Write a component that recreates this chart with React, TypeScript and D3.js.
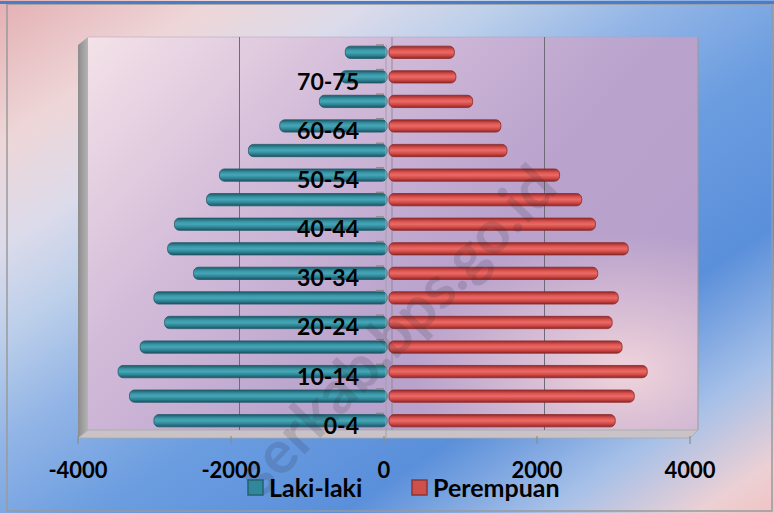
import React from 'react';
import * as d3 from 'd3';

// age groups, bottom to top
const ageGroups = [
  '0-4', '5-9', '10-14', '15-19', '20-24', '25-29', '30-34', '35-39',
  '40-44', '45-49', '50-54', '55-59', '60-64', '65-69', '70-75', '75+'
];
const labelledGroups = ['0-4', '10-14', '20-24', '30-34', '40-44', '50-54', '60-64', '70-75'];

// population per group (Laki-laki drawn to the left)
const lakiLaki = [3070, 3390, 3540, 3250, 2930, 3070, 2550, 2890, 2800, 2380, 2210, 1830, 1420, 900, 620, 560];
const perempuan = [2980, 3230, 3400, 3070, 2940, 3020, 2750, 3150, 2720, 2540, 2250, 1560, 1480, 1110, 890, 870];

const xTicks = [-4000, -2000, 0, 2000, 4000];
const legendItems = ['Laki-laki', 'Perempuan'];

const W = 774;
const H = 513;
const FONT = 'Lato, "Open Sans", sans-serif';

export default function App() {
  // back wall, bar plane and front axis plane (3D offset of the excel chart)
  const xBack = d3.scaleLinear().domain([-4000, 4000]).range([87, 697]);
  const xBar = d3.scaleLinear().domain([-4000, 4000]).range([83, 693]);
  const xFront = d3.scaleLinear().domain([-4000, 4000]).range([78, 690]);

  const yBar = d3.scaleBand<string>().domain([...ageGroups].reverse()).range([40, 433]).paddingInner(0.5).paddingOuter(0.25);
  const yFront = d3.scaleBand<string>().domain([...ageGroups].reverse()).range([45, 438]);

  const wallTop = 37;
  const wallBottom = 430;
  const wallLeft = 88;
  const wallRight = 698;
  const barH = yBar.bandwidth();

  const rows = ageGroups.map((g, i) => ({ g, l: lakiLaki[i], p: perempuan[i] }));

  return (
    <svg width={W} height={H} style={{ position: 'absolute', left: 0, top: 0 }} fontFamily={FONT}>
      <defs>
        <linearGradient id="bg" x1="0" y1="0" x2="1" y2="1">
          <stop offset="0" stopColor="#e4b0b3" />
          <stop offset="0.14" stopColor="#eed6d8" />
          <stop offset="0.24" stopColor="#dcdbea" />
          <stop offset="0.33" stopColor="#bccfea" />
          <stop offset="0.43" stopColor="#93b5e6" />
          <stop offset="0.56" stopColor="#6b9de0" />
          <stop offset="0.72" stopColor="#5a8fda" />
          <stop offset="0.85" stopColor="#a6c0e8" />
          <stop offset="0.95" stopColor="#ecd0d4" />
          <stop offset="1" stopColor="#f0c4c4" />
        </linearGradient>
        <linearGradient id="wall" x1="0" y1="0" x2="1" y2="0.6">
          <stop offset="0" stopColor="#f4e2e8" />
          <stop offset="0.35" stopColor="#d3bcd9" />
          <stop offset="0.7" stopColor="#b9a2cc" />
          <stop offset="1" stopColor="#b7a0cb" />
        </linearGradient>
        <radialGradient id="wallGlow" cx="0.88" cy="0.85" r="0.35">
          <stop offset="0" stopColor="#f3d6dc" stopOpacity="0.95" />
          <stop offset="1" stopColor="#f3d6dc" stopOpacity="0" />
        </radialGradient>
        <linearGradient id="side" x1="0" y1="0" x2="1" y2="0">
          <stop offset="0" stopColor="#8c8c8c" />
          <stop offset="1" stopColor="#b4b4b4" />
        </linearGradient>
        <linearGradient id="teal" x1="0" y1="0" x2="0" y2="1">
          <stop offset="0" stopColor="#1c5a69" />
          <stop offset="0.3" stopColor="#3996a7" />
          <stop offset="0.5" stopColor="#46a6b6" />
          <stop offset="0.75" stopColor="#2e8596" />
          <stop offset="1" stopColor="#1a5362" />
        </linearGradient>
        <linearGradient id="red" x1="0" y1="0" x2="0" y2="1">
          <stop offset="0" stopColor="#962a2a" />
          <stop offset="0.3" stopColor="#de5652" />
          <stop offset="0.5" stopColor="#ea6a65" />
          <stop offset="0.75" stopColor="#d04a47" />
          <stop offset="1" stopColor="#8e2626" />
        </linearGradient>
      </defs>

      {/* chart area background */}
      <rect x={0} y={0} width={W} height={H} fill="url(#bg)" />
      <rect x={7} y={4} width={W - 9} height={H - 6} fill="none" stroke="#9a9a9a" strokeWidth={1.5} />
      <rect x={0} y={1} width={W} height={3} fill="#4a7cc8" />

      {/* 3D walls */}
      <rect x={wallLeft} y={wallTop} width={wallRight - wallLeft} height={wallBottom - wallTop} fill="url(#wall)" />
      <rect x={wallLeft} y={wallTop} width={wallRight - wallLeft} height={wallBottom - wallTop} fill="url(#wallGlow)" />
      <line x1={wallRight} x2={wallRight} y1={wallTop} y2={wallBottom} stroke="#9a9a9a" />
      <line x1={wallLeft} x2={wallRight} y1={wallTop} y2={wallTop} stroke="#b0a0c0" strokeOpacity={0.5} />
      <polygon points={`78,45 ${wallLeft},${wallTop} ${wallLeft},${wallBottom} 78,438`} fill="url(#side)" />
      <polygon points={`78,438 ${wallLeft},${wallBottom} ${wallRight},${wallBottom} 690,438`} fill="#c9c3c8" stroke="#a8a8a8" strokeWidth={0.8} />

      {/* gridlines on back wall */}
      {xTicks.filter(t => t !== 0 && Math.abs(t) < 4000).map(t => (
        <line key={t} x1={xBack(t)} x2={xBack(t)} y1={wallTop} y2={wallBottom} stroke="#6e6a78" strokeWidth={1} />
      ))}
      <line x1={xBack(0)} x2={xBack(0)} y1={wallTop} y2={wallBottom} stroke="#8f8a98" strokeWidth={1} />

      {/* bars */}
      {rows.map(r => (
        <g key={r.g}>
          <rect x={xBar(-r.l)} y={yBar(r.g)} width={xBar(0) - xBar(-r.l) - 1} height={barH} rx={5} ry={5}
            fill="url(#teal)" stroke="#1f5b68" strokeWidth={0.8} />
          <rect x={xBar(0) + 1} y={yBar(r.g)} width={xBar(r.p) - xBar(0) - 1} height={barH} rx={5} ry={5}
            fill="url(#red)" stroke="#8a2a2a" strokeWidth={0.8} />
        </g>
      ))}

      {/* vertical category axis (front) */}
      <line x1={xFront(0) + 2} x2={xFront(0) + 2} y1={45} y2={438} stroke="#a0a0a8" strokeWidth={1} />
      {ageGroups.map(g => (
        <line key={g} x1={376} x2={384} y1={(yFront(g) ?? 0)} y2={(yFront(g) ?? 0)} stroke="#8c8c8c" strokeWidth={1.5} />
      ))}
      {labelledGroups.map(g => (
        <text key={g} x={359} y={(yFront(g) ?? 0) + yFront.bandwidth() / 2 + 8} textAnchor="end"
          fontSize={23} fontWeight={700} fill="#000">{g}</text>
      ))}

      {/* bottom value axis */}
      {xTicks.map(t => (
        <g key={t}>
          <line x1={xFront(t)} x2={xFront(t)} y1={436} y2={444} stroke="#8c8c8c" strokeWidth={1.2} />
          <text x={xFront(t)} y={478} textAnchor="middle" fontSize={22} fontWeight={700} fill="#000">{t}</text>
        </g>
      ))}

      {/* watermark */}
      <text transform="translate(560,190) rotate(-46)" textAnchor="end" fontSize={60} fontWeight={700}
        fill="#2a2a3a" fillOpacity={0.16}>serkab.bps.go.id</text>

      {/* legend */}
      {legendItems.map((name, i) => {
        const lx = i === 0 ? 248 : 412;
        return (
          <g key={name}>
            <rect x={lx} y={480} width={15} height={15} fill={i === 0 ? '#31889a' : '#cf4f4b'}
              stroke={i === 0 ? '#24606f' : '#8e3532'} strokeWidth={1.5} />
            <text x={lx + 21} y={497} fontSize={25} fontWeight={700} fill="#000">{name}</text>
          </g>
        );
      })}
    </svg>
  );
}
